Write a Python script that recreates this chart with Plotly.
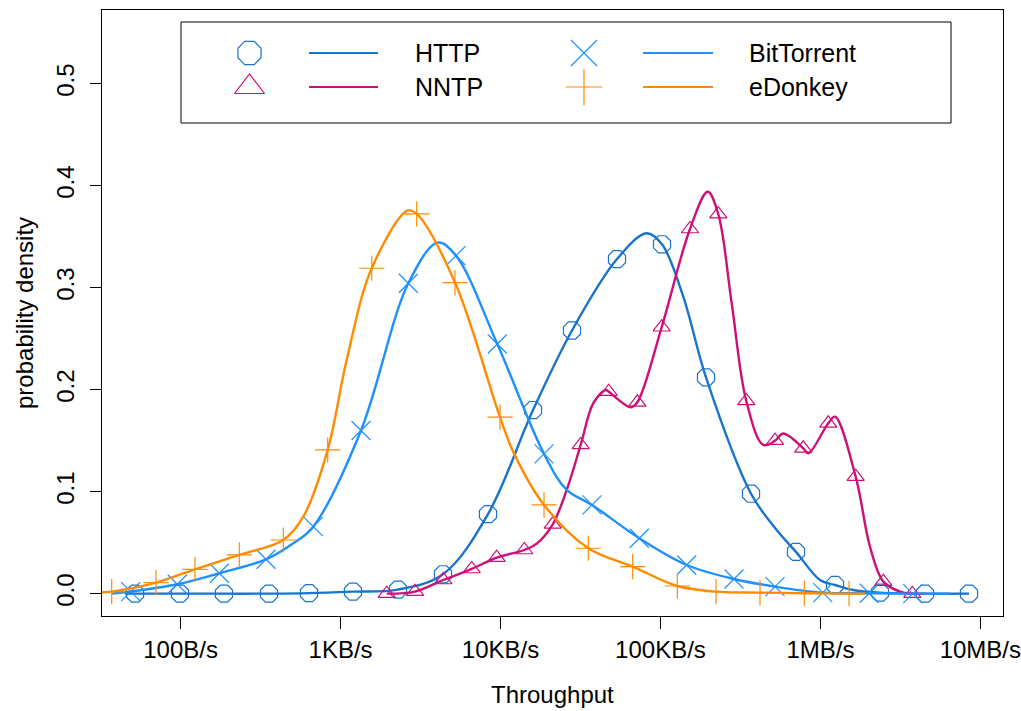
import plotly.graph_objects as go

# ---------------- data (throughput in bytes/s, density) ----------------
http_x = [51.9, 99.1, 186.7, 357, 635, 1196, 2287, 4371, 8353, 15970, 27990, 53490,
          102260, 192700, 368300, 703800, 1234000, 2358000, 4508000, 8492000]
http_y = [0.0, 0.0, 0.0, 0.0, 0.0005, 0.002, 0.004, 0.019, 0.078, 0.180, 0.258, 0.328,
          0.3425, 0.212, 0.098, 0.041, 0.0085, 0.001, 0.0, 0.0]
http_extra_x = [44.9, 82050, 139000, 533100, 994300, 1599000]
http_extra_y = [0.0, 0.3533, 0.291, 0.0624, 0.0134, 0.0036]

nntp_x = [1943, 2921, 4390, 6607, 9467, 14090, 21210, 31720, 47480, 71750, 101800,
          152990, 229900, 344100, 520300, 781800, 1120000, 1662000, 2474000, 3755000]
nntp_y = [0.0, 0.002, 0.0134, 0.0242, 0.0353, 0.0428, 0.068, 0.1458, 0.198, 0.1876,
          0.2612, 0.3575, 0.372, 0.189, 0.150, 0.1425, 0.167, 0.1147, 0.0118, 0.0]
nntp_extra_x = [16840, 25940, 38050, 45470, 65160, 197500, 279000, 439500, 586400,
                840400, 1234000, 2042000, 3146000, 4508000]
nntp_extra_y = [0.049, 0.1017, 0.1867, 0.1997, 0.1827, 0.394, 0.2846, 0.1458, 0.157,
                0.1376, 0.1735, 0.046, 0.002, 0.0]

bt_x = [48.75, 95.4, 174.6, 342, 675.4, 1342, 2652, 5270, 9550, 18710, 37350, 73760,
        145900, 288300, 520300, 1034000, 2021000, 3777000]
bt_y = [0.002, 0.0092, 0.020, 0.0337, 0.0657, 0.160, 0.3043, 0.3314, 0.2448, 0.137,
        0.087, 0.0543, 0.0281, 0.0144, 0.0069, 0.001, 0.0004, 0.0]
bt_extra_x = [37.25, 506.4, 4050, 25940, 6461000]
bt_extra_y = [0.0, 0.0494, 0.3441, 0.1017, 0.0]

ed_x = [37.09, 70.2, 123.0, 232.8, 438.6, 831, 1566, 2993, 5194, 9929, 18710, 35390,
        67060, 127500, 222500, 419200, 793000, 1510000]
ed_y = [0.002, 0.0108, 0.0239, 0.038, 0.0526, 0.1409, 0.319, 0.3723, 0.305, 0.173,
        0.087, 0.0445, 0.0265, 0.0075, 0.002, 0.001, 0.0004, 0.0]
ed_extra_x = [31.8, 585, 1092, 2622, 12020, 1901000]
ed_extra_y = [0.001, 0.0755, 0.229, 0.3755, 0.139, 0.0]

tick_vals = [1e2, 1e3, 1e4, 1e5, 1e6, 1e7]
tick_text = ["100B/s", "1KB/s", "10KB/s", "100KB/s", "1MB/s", "10MB/s"]
y_ticks = [0.0, 0.1, 0.2, 0.3, 0.4, 0.5]
y_text = ["0.0", "0.1", "0.2", "0.3", "0.4", "0.5"]

names = ["HTTP", "NNTP", "BitTorrent", "eDonkey"]
colors = ["#1874CD", "#CD1076", "#1E90FF", "#FF8C00"]
symbols = ["octagon-open", "triangle-up-open", "x-thin-open", "cross-thin-open"]
msizes = [18.5, 15, 19, 18]
legend_msizes = [25, 26, 26, 26]

series = [
    (http_x, http_y, http_extra_x, http_extra_y),
    (nntp_x, nntp_y, nntp_extra_x, nntp_extra_y),
    (bt_x, bt_y, bt_extra_x, bt_extra_y),
    (ed_x, ed_y, ed_extra_x, ed_extra_y),
]

FONT = "Liberation Sans"
W, H = 1021, 711
ML, MR, MT, MB = 102, 18, 10, 95

fig = go.Figure()

for (mx, my, ex, ey), name, col, sym, ms in zip(series, names, colors, symbols, msizes):
    pts = sorted(zip(mx + ex, my + ey))
    fig.add_trace(go.Scatter(
        x=[p[0] for p in pts], y=[p[1] for p in pts], mode="lines",
        line=dict(color=col, width=2.4, shape="spline", smoothing=1.0),
        showlegend=False, hoverinfo="skip"))
    fig.add_trace(go.Scatter(
        x=mx, y=my, mode="markers", name=name,
        marker=dict(symbol=sym, size=ms, color=col, line=dict(color=col, width=1.2)),
        showlegend=False, cliponaxis=True))


def px(xp):
    return (xp - ML) / (W - ML - MR)


def py(yp):
    return (H - MB - yp) / (H - MT - MB)


# ---------------- legend (drawn manually, R style) ----------------
shapes = [dict(type="rect", xref="paper", yref="paper", x0=px(181), x1=px(951),
               y0=py(123), y1=py(22), line=dict(color="black", width=1),
               layer="below")]
annotations = []
leg_cols = [(249.5, 309, 378, 413), (584, 643, 713, 747)]
leg_rows = [53, 87]
order = [(0, 0), (1, 0), (0, 1), (1, 1)]  # (row, col) for each series
for i, (r, c) in enumerate(order):
    sx, lx0, lx1, tx = leg_cols[c]
    yy = leg_rows[r]
    shapes.append(dict(type="line", xref="paper", yref="paper", x0=px(lx0), x1=px(lx1),
                       y0=py(yy), y1=py(yy), line=dict(color=colors[i], width=2),
                       layer="above"))
    annotations.append(dict(text=names[i], xref="paper", yref="paper", x=px(tx), y=py(yy),
                            xanchor="left", yanchor="middle", showarrow=False,
                            font=dict(family=FONT, size=25, color="black")))
    fig.add_trace(go.Scatter(
        x=[px(sx)], y=[py(yy)], xaxis="x2", yaxis="y2", mode="markers",
        marker=dict(symbol=symbols[i], size=legend_msizes[i], color=colors[i],
                    line=dict(color=colors[i], width=1.2)),
        showlegend=False, cliponaxis=False, hoverinfo="skip"))

annotations.append(dict(text="Throughput", xref="paper", yref="paper", x=0.5, y=py(694),
                        xanchor="center", yanchor="middle", showarrow=False,
                        font=dict(family=FONT, size=24, color="black")))
annotations.append(dict(text="probability density", xref="paper", yref="paper",
                        x=px(24), y=0.5, textangle=-90, xanchor="center",
                        yanchor="middle", showarrow=False,
                        font=dict(family=FONT, size=24, color="black")))

fig.update_layout(
    width=W, height=H,
    margin=dict(l=ML, r=MR, t=MT, b=MB, autoexpand=False),
    paper_bgcolor="white", plot_bgcolor="white",
    showlegend=False,
    font=dict(family=FONT, size=24, color="black"),
    xaxis=dict(type="log", range=[1.5086, 7.1416], tickvals=tick_vals, ticktext=tick_text,
               ticks="outside", ticklen=12, tickwidth=1, tickcolor="black",
               showline=True, linecolor="black", linewidth=1, mirror=True,
               showgrid=False, zeroline=False, ticklabelstandoff=0,
               ticklabeloverflow="allow", automargin=False,
               tickfont=dict(family=FONT, size=24, color="black")),
    yaxis=dict(range=[-0.0219, 0.5722], tickvals=y_ticks, ticktext=y_text,
               ticks="outside", ticklen=11, tickwidth=1, tickcolor="black",
               showline=True, linecolor="black", linewidth=1, mirror=True,
               showgrid=False, zeroline=False, tickangle=-90, ticklabelstandoff=6,
               automargin=False,
               tickfont=dict(family=FONT, size=24, color="black")),
    xaxis2=dict(overlaying="x", range=[0, 1], visible=False, anchor="y2"),
    yaxis2=dict(overlaying="y", range=[0, 1], visible=False, anchor="x2"),
    shapes=shapes,
    annotations=annotations,
)

fig.write_html("out.html")
